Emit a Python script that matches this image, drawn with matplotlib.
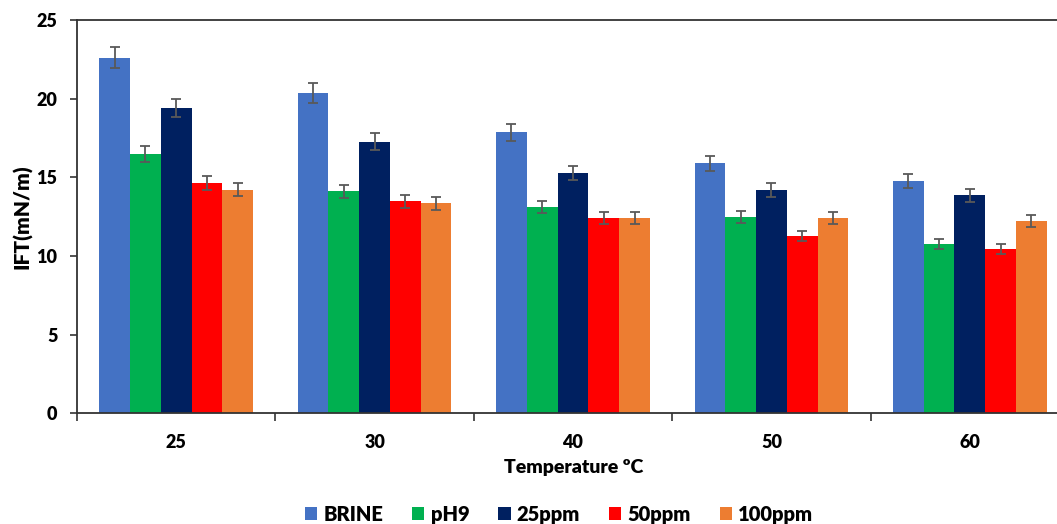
import matplotlib
matplotlib.use("Agg")
import matplotlib.pyplot as plt
import numpy as np

temperatures = ["25", "30", "40", "50", "60"]
series_names = ["BRINE", "pH9", "25ppm", "50ppm", "100ppm"]

brine = [22.60, 20.36, 17.86, 15.89, 14.77]
ph9 = [16.48, 14.11, 13.10, 12.46, 10.77]
ppm25 = [19.39, 17.27, 15.26, 14.18, 13.86]
ppm50 = [14.62, 13.48, 12.40, 11.27, 10.46]
ppm100 = [14.22, 13.35, 12.40, 12.40, 12.24]

brine_err = [0.68, 0.61, 0.54, 0.48, 0.44]
ph9_err = [0.49, 0.42, 0.39, 0.37, 0.32]
ppm25_err = [0.58, 0.52, 0.46, 0.43, 0.42]
ppm50_err = [0.44, 0.40, 0.37, 0.34, 0.31]
ppm100_err = [0.43, 0.40, 0.37, 0.37, 0.37]

colors = ["#4472C4", "#00B050", "#002060", "#FF0000", "#ED7D31"]

plt.rcParams["font.family"] = ["Lato", "DejaVu Sans"]
plt.rcParams["font.weight"] = "heavy"
W = "heavy"

fig = plt.figure(figsize=(10.57, 5.24), dpi=100)
ax = fig.add_axes([0.0728, 0.2113, 0.9386, 0.7505])

values = [brine, ph9, ppm25, ppm50, ppm100]
errors = [brine_err, ph9_err, ppm25_err, ppm50_err, ppm100_err]
x = np.arange(len(temperatures))
bar_w = 0.155
offsets = (np.arange(len(series_names)) - 2) * bar_w

for name, vals, errs, col, off in zip(series_names, values, errors, colors, offsets):
    ax.bar(x + off, vals, width=bar_w, color=col, label=name, zorder=2)
    ax.errorbar(x + off, vals, yerr=errs, fmt="none", ecolor="#595959",
                elinewidth=1.3, capsize=3.5, capthick=1.3, zorder=3)

ax.set_xlim(-0.5, 4.5)
ax.set_ylim(0, 25)
ax.set_yticks([0, 5, 10, 15, 20, 25])
ax.set_xticks(x)
ax.set_xticklabels(temperatures)
ax.set_xticks(np.arange(-0.5, 5.0, 1.0), minor=True)

for side in ["left", "bottom", "top"]:
    ax.spines[side].set_color("#333333")
    ax.spines[side].set_linewidth(1.3)
ax.spines["right"].set_visible(False)

ax.tick_params(axis="y", direction="out", length=5, width=1.2, color="#333333",
               pad=9, labelsize=13)
ax.tick_params(axis="x", which="major", length=0, pad=15, labelsize=13)
ax.tick_params(axis="x", which="minor", direction="out", length=6, width=1.2,
               color="#333333")
for lbl in ax.get_xticklabels() + ax.get_yticklabels():
    lbl.set_fontweight(W)

ax.set_ylabel("IFT(mN/m)", fontsize=15, fontweight=W)
ax.yaxis.set_label_coords(-0.045, 0.5)
fig.text(0.543, 0.107, "Temperature \u00baC", ha="center", va="center",
         fontsize=14, fontweight=W)

handles, labels = ax.get_legend_handles_labels()
fig.legend(handles, labels, loc="center", bbox_to_anchor=(0.529, 0.019),
           ncol=5, frameon=False, handlelength=0.6,
           handleheight=0.6, handletextpad=0.3, columnspacing=1.45,
           prop={"weight": W, "size": 14.5})

fig.savefig("out.png", dpi=100)
